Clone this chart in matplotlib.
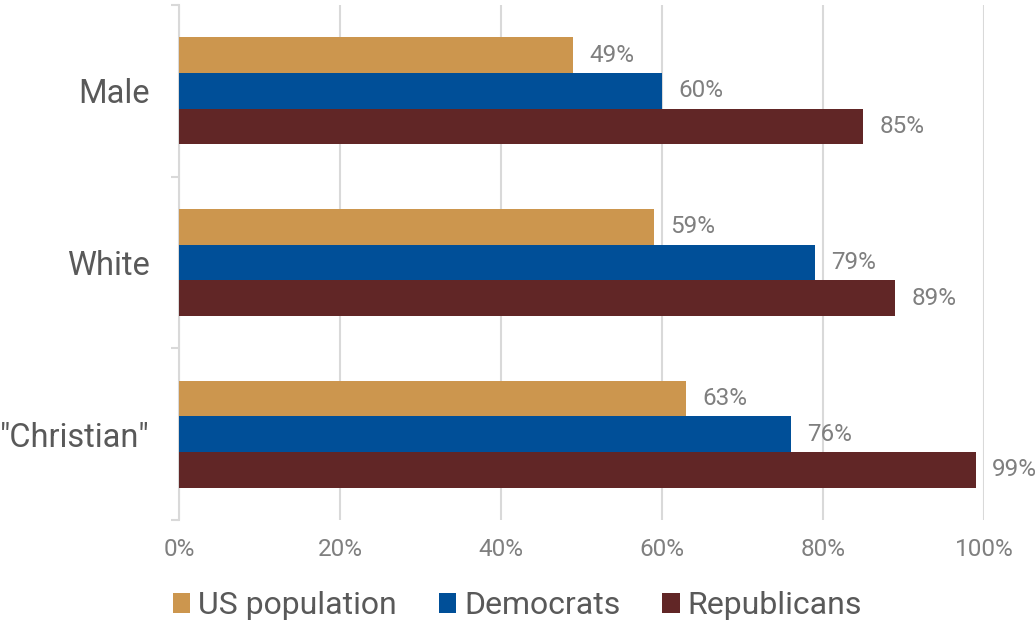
import numpy as np
import matplotlib.pyplot as plt
from matplotlib.ticker import FixedLocator, PercentFormatter

categories = ['Male', 'White', '"Christian"']
series = ['US population', 'Democrats', 'Republicans']
us_population = [49, 59, 63]
democrats = [60, 79, 76]
republicans = [85, 89, 99]
colors = ['#CC964E', '#004F98', '#612626']

plt.rcParams['font.family'] = ['Roboto', 'DejaVu Sans']

fig = plt.figure(figsize=(10.35, 6.24), dpi=100)
ax = fig.add_axes([179 / 1035, 1 - 520 / 624, 805 / 1035, 515 / 624])

y = np.arange(len(categories))
h = 0.208
for i, (name, vals) in enumerate(zip(series, [us_population, democrats, republicans])):
    pos = y + (i - 1) * h
    ax.barh(pos, vals, height=h, color=colors[i], label=name, zorder=3)
    for p, v in zip(pos, vals):
        ax.annotate(f'{v}%', (v, p), xytext=(11.5, 0), textcoords='offset points',
                    ha='left', va='center', fontsize=17.5, color='#7F7F7F',
                    annotation_clip=False)

ax.set_xlim(0, 100)
ax.set_ylim(2.5, -0.5)
ax.set_xticks(range(0, 101, 20))
ax.xaxis.set_major_formatter(PercentFormatter(decimals=0))
ax.set_yticks(y)
ax.set_yticklabels(categories)
ax.yaxis.set_minor_locator(FixedLocator([-0.5, 0.5, 1.5, 2.5]))
ax.tick_params(axis='y', which='major', length=0, labelsize=23.5, labelcolor='#595959', pad=21)
ax.tick_params(axis='y', which='minor', length=6, width=1.5, color='#D9D9D9')
ax.tick_params(axis='x', length=0, labelsize=17.5, labelcolor='#7F7F7F', pad=13)

ax.grid(axis='x', color='#D9D9D9', linewidth=1.5, zorder=0)
for s in ['top', 'right', 'bottom']:
    ax.spines[s].set_visible(False)
ax.spines['left'].set_color('#D9D9D9')
ax.spines['left'].set_linewidth(1.5)

fig.legend(loc='lower center', ncol=3, frameon=False, fontsize=23,
           handlelength=0.55, handleheight=0.55, handletextpad=0.25, columnspacing=1.3,
           labelcolor='#595959', bbox_to_anchor=(0.5, -0.04))

fig.savefig('out.png', dpi=100)
